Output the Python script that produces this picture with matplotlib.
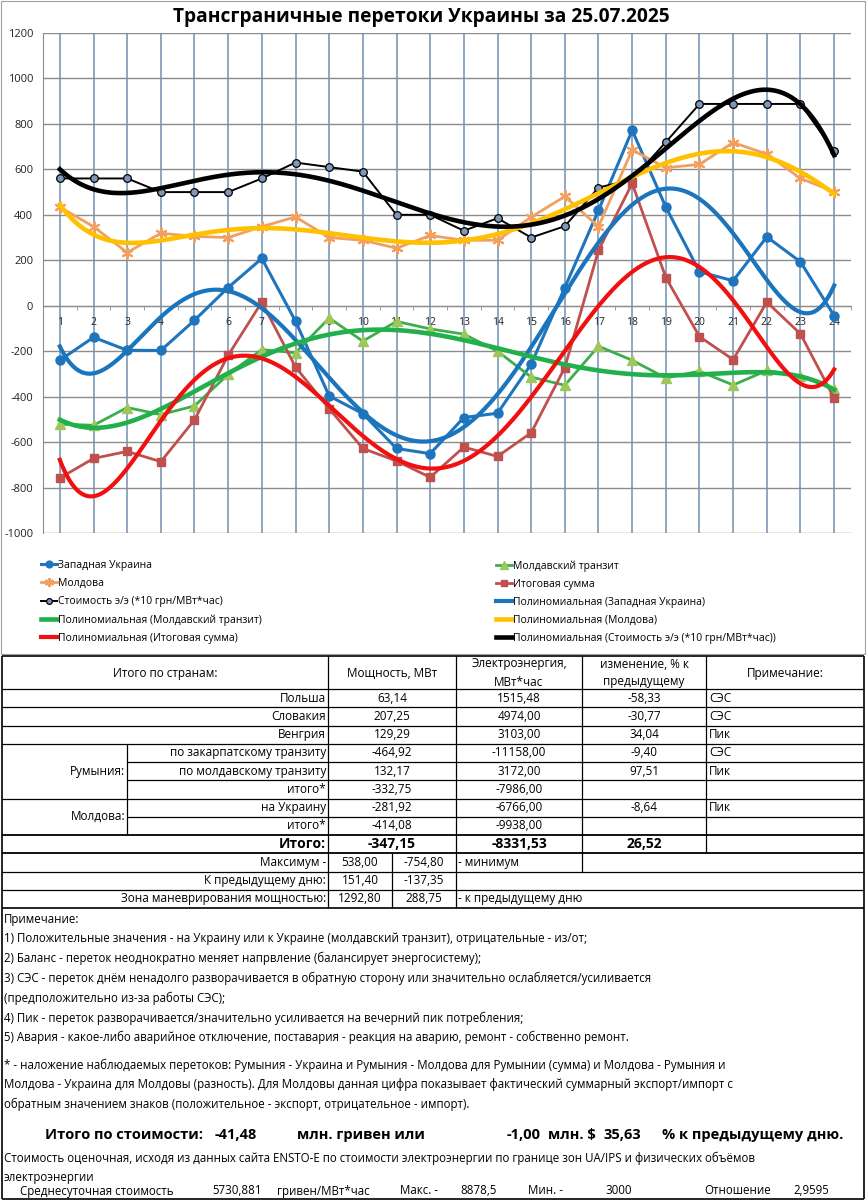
import numpy as np
import matplotlib
matplotlib.use("Agg")
import matplotlib.pyplot as plt
from matplotlib.patches import Rectangle
from matplotlib.ticker import MultipleLocator, FixedLocator

plt.rcParams["font.family"] = ["Open Sans", "DejaVu Sans"]
plt.rcParams["axes.unicode_minus"] = False

# ── Данные графика (почасовые, МВт) ─────────────────────────────────────
hours = np.arange(1, 25)
west_ukraine = [-240, -139, -196, -197, -64, 80, 208, -68, -397, -475, -628, -651,
                -492, -473, -257, 80, 420, 772, 434, 149, 110, 303, 193, -44]
moldova = [434, 348, 234, 319, 305, 300, 348, 391, 300, 288, 253, 309,
           288, 288, 390, 481, 348, 686, 607, 622, 718, 667, 560, 502]
cost = [560, 560, 560, 500, 500, 500, 560, 630, 610, 590, 400, 400,
        330, 385, 300, 350, 520, 555, 720, 887.85, 887.85, 887.85, 887.85, 680]
mold_transit = [-521, -526, -448, -479, -441, -302, -193, -207, -54, -156, -69, -102,
                -125, -200, -314, -350, -178, -240, -318, -288, -349, -285, -310, -365]
total_sum = [-758, -672, -641, -686, -502, -218, 16, -270, -453, -628, -683, -755,
             -622, -663, -559, -272, 244, 538, 124, -136, -237, 16, -124, -407]

title = "Трансграничные перетоки Украины за 25.07.2025"

# ── Данные таблицы ──────────────────────────────────────────────────────
row_labels = ["Польша", "Словакия", "Венгрия", "по закарпатскому транзиту",
              "по молдавскому транзиту", "итого*", "на Украину", "итого*"]
row_power = [63.14, 207.25, 129.29, -464.92, 132.17, -332.75, -281.92, -414.08]
row_energy = [1515.48, 4974.00, 3103.00, -11158.00, 3172.00, -7986.00, -6766.00, -9938.00]
row_change = [-58.33, -30.77, 34.04, -9.40, 97.51, None, -8.64, None]
row_note = ["СЭС", "СЭС", "Пик", "СЭС", "Пик", "", "Пик", ""]
total_power, total_energy, total_change = -347.15, -8331.53, 26.52
max_power, min_power = 538.00, -754.80
prev_day = (151.40, -137.35)
maneuver = (1292.80, 288.75)

notes = [
    "Примечание:",
    "1) Положительные значения - на Украину или к Украине (молдавский транзит), отрицательные - из/от;",
    "2) Баланс - переток неоднократно меняет напрвление (балансирует энергосистему);",
    "3) СЭС - переток днём ненадолго разворачивается в обратную сторону или значительно ослабляется/усиливается",
    "(предположительно из-за работы СЭС);",
    "4) Пик - переток разворачивается/значительно усиливается на вечерний пик потребления;",
    "5) Авария - какое-либо аварийное отключение, поставария - реакция на аварию, ремонт - собственно ремонт.",
]
star_note = [
    "* - наложение наблюдаемых перетоков: Румыния - Украина и Румыния - Молдова для Румынии (сумма) и Молдова - Румыния и",
    "Молдова - Украина для Молдовы (разность). Для Молдовы данная цифра показывает фактический суммарный экспорт/импорт с",
    "обратным значением знаков (положительное - экспорт, отрицательное - импорт).",
]
cost_total_uah, cost_total_usd, cost_change = -41.48, -1.00, 35.63
cost_text = ["Стоимость оценочная, исходя из данных сайта ENSTO-E по стоимости электроэнергии по границе зон UA/IPS и физических объёмов",
             "электроэнергии"]
avg_cost, max_cost, min_cost, cost_ratio = "5730,881", "8878,5", "3000", "2,9595"


def fmt(v):
    return f"{v:.2f}".replace(".", ",")


W, H = 866, 1200
fig = plt.figure(figsize=(W / 100, H / 100), dpi=100)


def rect(x0, y0, x1, y1):
    return [x0 / W, 1 - y1 / H, (x1 - x0) / W, (y1 - y0) / H]


# ── Слой разметки (пиксельные координаты) ───────────────────────────────
lay = fig.add_axes([0, 0, 1, 1])
lay.set_xlim(0, W)
lay.set_ylim(H, 0)
lay.axis("off")
lay.set_zorder(1)

ax = fig.add_axes(rect(43, 33, 851, 533))
ax.set_zorder(2)

C_BLUE = "#1F74BE"
C_ORANGE = "#F0A060"
C_GREEN = "#3DAE4C"
C_BROWN = "#C0504D"

l_wu, = ax.plot(hours, west_ukraine, color=C_BLUE, lw=2.2, marker="o", ms=6.5,
                label="Западная Украина", zorder=3)
l_mol, = ax.plot(hours, moldova, color=C_ORANGE, lw=2.0, marker=(6, 2, 0), ms=8.5, mew=1.5,
                 label="Молдова", zorder=3)
l_cost, = ax.plot(hours, cost, color="black", lw=1.4, marker="o", ms=5.5, mfc="#7F97BA",
                  mec="black", mew=0.9, label="Стоимость э/э (*10 грн/МВт*час)", zorder=3)
l_mt, = ax.plot(hours, mold_transit, color=C_GREEN, lw=2.0, marker="^", ms=7,
                mfc="#9DC75A", mec="#9DC75A", label="Молдавский транзит", zorder=3)
l_tot, = ax.plot(hours, total_sum, color=C_BROWN, lw=2.0, marker="s", ms=6.2,
                 label="Итоговая сумма", zorder=3)

# полиномиальные тренды 6-й степени (как в Excel)
xs = np.linspace(1, 24, 400)
trends = {}
for name, ser, col, lw in [
    ("Полиномиальная (Западная Украина)", west_ukraine, "#1B75BC", 3.0),
    ("Полиномиальная (Молдавский транзит)", mold_transit, "#21B04B", 3.3),
    ("Полиномиальная (Молдова)", moldova, "#FFC000", 3.3),
    ("Полиномиальная (Итоговая сумма)", total_sum, "#F01010", 3.0),
    ("Полиномиальная (Стоимость э/э (*10 грн/МВт*час))", cost, "black", 3.3),
]:
    coef = np.polyfit(hours, ser, 6)
    trends[name], = ax.plot(xs, np.polyval(coef, xs), color=col, lw=lw, label=name, zorder=4)

ax.set_xlim(0.5, 24.5)
ax.set_ylim(-1000, 1200)
ax.yaxis.set_major_locator(MultipleLocator(200))
ax.set_xticks(hours)
ax.set_xticklabels([str(h) for h in hours])
ax.xaxis.set_minor_locator(FixedLocator(np.arange(0.5, 25, 1)))
ax.spines["bottom"].set_position(("data", 0))
for s in ["top", "right"]:
    ax.spines[s].set_visible(False)
for s in ["left", "bottom"]:
    ax.spines[s].set_color("#8C8C8C")
ax.tick_params(axis="x", which="major", length=0, pad=8, labelsize=7.5, labelcolor="#222")
ax.tick_params(axis="x", which="minor", length=3, direction="out", color="#8C8C8C")
ax.tick_params(axis="y", length=0, pad=7, labelsize=8, labelcolor="#222")
ax.grid(axis="y", color="#8C8C8C", lw=1.0)
ax.grid(axis="x", color="#7C99B8", lw=1.2)
ax.set_axisbelow(True)

# легенда в два столбца (порядок как в Excel)
tr = list(trends.values())
leg_kw = dict(loc="upper left", frameon=False, borderpad=0, borderaxespad=0,
              handlelength=1.5, handletextpad=0.15, labelspacing=0.68, fontsize=7.5,
              markerscale=0.75)
leg1 = fig.legend(handles=[l_wu, l_mol, l_cost, tr[1], tr[3]],
                  bbox_to_anchor=(41 / W, 1 - 560 / H), **leg_kw)
leg2 = fig.legend(handles=[l_mt, l_tot, tr[0], tr[2], tr[4]],
                  bbox_to_anchor=(496 / W, 1 - 560 / H), **leg_kw)

lay.text(421, 17, title, ha="center", va="center", fontsize=13.8, fontweight="bold")
lay.add_patch(Rectangle((1, 1), 864, 653, fill=False, ec="#A0A0A0", lw=0.8))

# ── Таблица ─────────────────────────────────────────────────────────────
T0, HB, RH = 656, 689, 18.25


def top(i):
    return HB + RH * i


def mid(i):
    return HB + RH * i + RH / 2


def hl(y, x0=2, x1=864, lw=0.9):
    lay.plot([x0, x1], [y, y], color="black", lw=lw, solid_capstyle="butt")


def vl(x, y0, y1, lw=0.9):
    lay.plot([x, x], [y0, y1], color="black", lw=lw, solid_capstyle="butt")


def t(x, y, s, ha="center", size=8.5, **kw):
    lay.text(x, y, s, ha=ha, va="center", fontsize=size, **kw)


hl(T0, lw=1.2)
hl(HB)
for i in range(1, 12):
    hl(top(i), x0=127 if i in (4, 5, 7) else 2, lw=1.3 if i in (8, 9) else 0.9)
hl(top(12), lw=1.2)
vl(2, T0, top(12), lw=1.2)
vl(864, T0, top(12), lw=1.2)
vl(328, T0, top(12))
vl(456, T0, top(12))
vl(582, T0, top(10))
vl(706, T0, top(9))
vl(392, top(9), top(12))
vl(127, top(3), top(8))

t(165, 673, "Итого по странам:")
t(392, 673, "Мощность, МВт")
t(519, 664, "Электроэнергия,")
t(519, 682, "МВт*час")
t(644, 664, "изменение, % к")
t(644, 682, "предыдущему")
t(785, 673, "Примечание:")

for i, lab in enumerate(row_labels):
    t(326, mid(i), lab, ha="right")
    t(392, mid(i), fmt(row_power[i]))
    t(519, mid(i), fmt(row_energy[i]))
    if row_change[i] is not None:
        t(644, mid(i), fmt(row_change[i]))
    t(709, mid(i), row_note[i], ha="left")
t(125, mid(4), "Румыния:", ha="right")
t(125, (top(6) + top(8)) / 2, "Молдова:", ha="right")

t(326, mid(8), "Итого:", ha="right", size=10, fontweight="bold")
t(392, mid(8), fmt(total_power), size=10, fontweight="bold")
t(519, mid(8), fmt(total_energy), size=10, fontweight="bold")
t(644, mid(8), fmt(total_change), size=10, fontweight="bold")

t(326, mid(9), "Максимум -", ha="right")
t(360, mid(9), fmt(max_power))
t(424, mid(9), fmt(min_power))
t(458, mid(9), "- минимум", ha="left")
t(326, mid(10), "К предыдущему дню:", ha="right")
t(360, mid(10), fmt(prev_day[0]))
t(424, mid(10), fmt(prev_day[1]))
t(326, mid(11), "Зона маневрирования мощностью:", ha="right")
t(360, mid(11), fmt(maneuver[0]))
t(424, mid(11), fmt(maneuver[1]))
t(458, mid(11), "- к предыдущему дню", ha="left")

# ── Примечания ──────────────────────────────────────────────────────────
vl(2, top(12), 1199, lw=1.2)
vl(864, top(12), 1199, lw=1.2)
hl(1199, lw=1.2)
for k, line in enumerate(notes):
    t(4, 919 + k * 19.8, line, ha="left", size=8.3)
for k, line in enumerate(star_note):
    t(4, 1065 + k * 19.5, line, ha="left", size=8.3)

bold = dict(size=10.5, fontweight="bold")
t(45, 1135, "Итого по стоимости:", ha="left", **bold)
t(215, 1135, fmt(cost_total_uah), ha="left", **bold)
t(297, 1135, "млн. гривен или", ha="left", **bold)
t(541, 1135, fmt(cost_total_usd), ha="right", **bold)
t(548, 1135, "млн. $", ha="left", **bold)
t(604, 1135, fmt(cost_change), ha="left", **bold)
t(662, 1135, "% к предыдущему дню.", ha="left", **bold)
for k, line in enumerate(cost_text):
    t(4, 1158 + k * 19, line, ha="left", size=8.3)
small = dict(ha="left", size=8.3)
t(20, 1191, "Среднесуточная стоимость", **small)
t(212, 1191, avg_cost, **small)
t(277, 1191, "гривен/МВт*час", **small)
t(400, 1191, "Макс. -", **small)
t(460, 1191, max_cost, **small)
t(528, 1191, "Мин. -", **small)
t(605, 1191, min_cost, **small)
t(704, 1191, "Отношение", **small)
t(793, 1191, cost_ratio, **small)

fig.savefig("out.png", dpi=100)
